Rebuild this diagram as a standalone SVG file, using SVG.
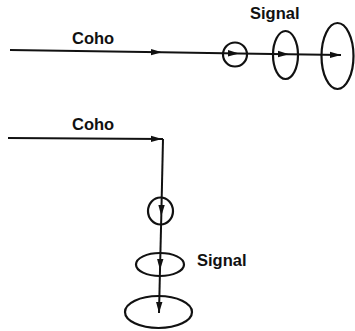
<svg xmlns="http://www.w3.org/2000/svg" width="355" height="331" viewBox="0 0 355 331">
<defs>
<style>
.ln{fill:none;stroke:#111;stroke-width:2;marker-end:url(#ah)}
.sh{fill:none;stroke:#111;stroke-width:2.2}
.tx{font-family:"Liberation Sans",Arial,sans-serif;font-weight:bold;font-size:16.5px;fill:#111}
</style>
<marker id="ah" markerUnits="userSpaceOnUse" markerWidth="12" markerHeight="8" refX="11" refY="4" orient="auto">
<path d="M0,0.8 L11,4 L0,7.2 z" fill="#111"/>
</marker>
</defs>
<rect width="355" height="331" fill="#fff"/>
<g id="top-circle"><circle class="sh" cx="235" cy="54.5" r="12"/></g>
<g id="top-ellipse-mid"><ellipse class="sh" cx="285.5" cy="55" rx="12.5" ry="24"/></g>
<g id="top-ellipse-large"><ellipse class="sh" cx="337.5" cy="56" rx="16" ry="33"/></g>
<g id="bottom-circle"><ellipse class="sh" cx="160.5" cy="211" rx="12.5" ry="13.5"/></g>
<g id="bottom-ellipse-mid"><ellipse class="sh" cx="160" cy="264.5" rx="24" ry="11.5"/></g>
<g id="bottom-ellipse-large"><ellipse class="sh" cx="158.5" cy="312" rx="33.5" ry="16"/></g>
<g id="labels">
<text class="tx" x="72" y="44">Coho</text>
<text class="tx" x="250" y="18.5">Signal</text>
<text class="tx" x="72" y="130">Coho</text>
<text class="tx" x="197" y="266">Signal</text>
</g>
<g id="connectors">
<path class="ln" d="M10,50 L162,52.3"/>
<path class="ln" d="M162,52.3 L239,53.4"/>
<path class="ln" d="M239,53.4 L289,54.2"/>
<path class="ln" d="M289,54.2 L341,55"/>
<path class="ln" d="M8,138 L162,139"/>
<path class="sh" d="M161.5,139 L163,139"/>
<path class="ln" d="M163,139 L161.3,216"/>
<path class="ln" d="M161.3,216 L160,270"/>
<path class="ln" d="M160,270 L159,313"/>
</g>
</svg>
